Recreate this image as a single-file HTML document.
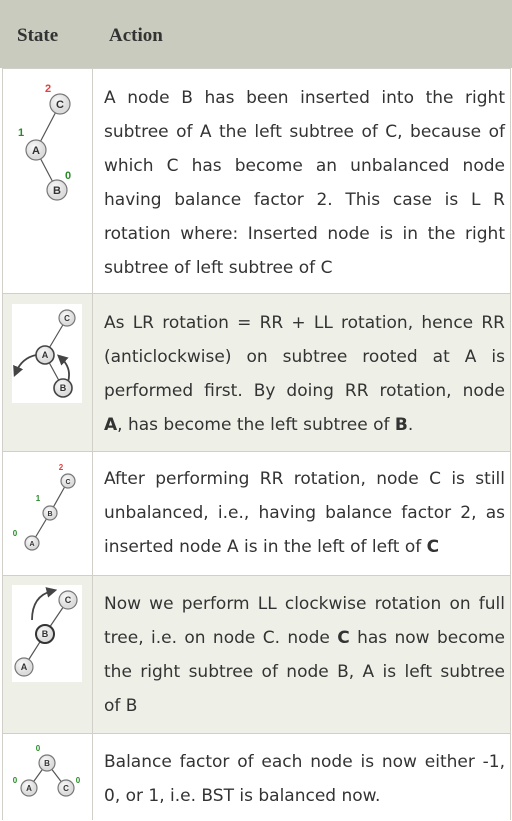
<!DOCTYPE html>
<html><head><style>
body{margin:0;width:512px;height:820px;background:#fff;position:relative;overflow:hidden;font-family:"Liberation Sans",sans-serif;color:#333}
.row{position:absolute;left:2px;width:508px;border-top:1px solid #d0d0c8}
.t{position:absolute;left:104px;width:401px;font-family:"DejaVu Sans",sans-serif;font-size:17px;line-height:34px}
.t div{white-space:nowrap;text-align:justify;text-align-last:justify}
.t div.l{text-align:left;text-align-last:left}
.h{position:absolute;font-family:"Liberation Serif",serif;font-weight:bold;font-size:19px;top:25px}
svg text{font-family:"Liberation Sans",sans-serif;font-weight:bold}
</style></head><body>
<div style="position:absolute;left:0;top:0;width:512px;height:68px;background:#c8cbbd"></div>
<div class="h" style="left:17px">State</div><div class="h" style="left:109px">Action</div>
<div class="row" style="top:68px;height:225px;background:#fff"></div>
<div class="row" style="top:293px;height:158px;background:#eef0e8"></div>
<div class="row" style="top:451px;height:124px;background:#fff"></div>
<div class="row" style="top:575px;height:158px;background:#eef0e8"></div>
<div class="row" style="top:733px;height:87px;background:#fff"></div>
<div style="position:absolute;left:2px;top:68px;width:1px;height:752px;background:#d0d0c8"></div>
<div style="position:absolute;left:92px;top:68px;width:1px;height:752px;background:#d0d0c8"></div>
<div style="position:absolute;left:510px;top:68px;width:1px;height:752px;background:#d0d0c8"></div>
<div style="position:absolute;left:12px;top:304px;width:70px;height:99px;background:#fff"></div>
<div style="position:absolute;left:12px;top:585px;width:70px;height:97px;background:#fff"></div>
<svg width="512" height="820" style="position:absolute;left:0;top:0">
<defs><radialGradient id="g" cx="40%" cy="35%"><stop offset="0" stop-color="#fafafa"/><stop offset="1" stop-color="#dcdcdc"/></radialGradient>
<marker id="m" markerWidth="6" markerHeight="6" refX="3" refY="3" orient="auto"><path d="M0,0L6,3L0,6z" fill="#444"/></marker></defs>
<g stroke="#555" stroke-width="1.2">
<line x1="60" y1="104" x2="36" y2="150"/><line x1="36" y1="150" x2="57" y2="190"/>
<line x1="67" y1="318" x2="45" y2="355"/><line x1="45" y1="355" x2="63" y2="388"/>
<line x1="68" y1="481" x2="50" y2="513"/><line x1="50" y1="513" x2="32" y2="543"/>
<line x1="68" y1="600" x2="45" y2="634"/><line x1="45" y1="634" x2="24" y2="667"/>
<line x1="47" y1="763" x2="29" y2="788"/><line x1="47" y1="763" x2="66" y2="788"/>
</g>
<g fill="none" stroke="#444" stroke-width="1.8" marker-end="url(#m)">
<path d="M36,355 Q22,358 16,372"/><path d="M68,382 Q72,368 61,358"/><path d="M32,620 Q32,596 52,591"/>
</g>
<g fill="url(#g)" stroke="#777" stroke-width="1.2">
<circle cx="60" cy="104" r="10"/><circle cx="36" cy="150" r="10"/><circle cx="57" cy="190" r="10"/>
<circle cx="67" cy="318" r="8"/><circle cx="45" cy="355" r="9" stroke="#444" stroke-width="1.6"/><circle cx="63" cy="388" r="9" stroke="#444" stroke-width="1.6"/>
<circle cx="68" cy="481" r="7"/><circle cx="50" cy="513" r="7"/><circle cx="32" cy="543" r="7"/>
<circle cx="68" cy="600" r="9"/><circle cx="45" cy="634" r="9" stroke="#333" stroke-width="2"/><circle cx="24" cy="667" r="9"/>
<circle cx="47" cy="763" r="8"/><circle cx="29" cy="788" r="8"/><circle cx="66" cy="788" r="8"/>
</g>
<g fill="#333" text-anchor="middle">
<text x="60" y="108" font-size="11">C</text><text x="36" y="154" font-size="11">A</text><text x="57" y="194" font-size="11">B</text>
<text x="67" y="321" font-size="8">C</text><text x="45" y="358" font-size="9">A</text><text x="63" y="391" font-size="9">B</text>
<text x="68" y="484" font-size="7">C</text><text x="50" y="516" font-size="7">B</text><text x="32" y="546" font-size="7">A</text>
<text x="68" y="603" font-size="9">C</text><text x="45" y="637" font-size="9">B</text><text x="24" y="670" font-size="9">A</text>
<text x="47" y="766" font-size="8">B</text><text x="29" y="791" font-size="8">A</text><text x="66" y="791" font-size="8">C</text>
</g>
<g text-anchor="middle">
<text x="48" y="92" font-size="11" fill="#e04040">2</text><text x="21" y="136" font-size="11" fill="#2a8a2a">1</text><text x="68" y="179" font-size="11" fill="#2a8a2a">0</text>
<text x="61" y="470" font-size="8" fill="#e04040">2</text><text x="38" y="501" font-size="8" fill="#2a8a2a">1</text><text x="15" y="536" font-size="8" fill="#2a8a2a">0</text>
<text x="38" y="751" font-size="8" fill="#2a8a2a">0</text><text x="15" y="783" font-size="8" fill="#2a8a2a">0</text><text x="78" y="783" font-size="8" fill="#2a8a2a">0</text>
</g>
</svg>
<div class="t" style="top:81px">
<div>A node B has been inserted into the right</div>
<div>subtree of A the left subtree of C, because of</div>
<div>which C has become an unbalanced node</div>
<div>having balance factor 2. This case is L R</div>
<div>rotation where: Inserted node is in the right</div>
<div class="l">subtree of left subtree of C</div></div>
<div class="t" style="top:306px">
<div>As LR rotation = RR + LL rotation, hence RR</div>
<div>(anticlockwise) on subtree rooted at A is</div>
<div>performed first. By doing RR rotation, node</div>
<div class="l"><b>A</b>, has become the left subtree of <b>B</b>.</div></div>
<div class="t" style="top:462px">
<div>After performing RR rotation, node C is still</div>
<div>unbalanced, i.e., having balance factor 2, as</div>
<div class="l">inserted node A is in the left of left of <b>C</b></div></div>
<div class="t" style="top:587px">
<div>Now we perform LL clockwise rotation on full</div>
<div>tree, i.e. on node C. node <b>C</b> has now become</div>
<div>the right subtree of node B, A is left subtree</div>
<div class="l">of B</div></div>
<div class="t" style="top:745px">
<div>Balance factor of each node is now either -1,</div>
<div class="l">0, or 1, i.e. BST is balanced now.</div></div>
</body></html>
